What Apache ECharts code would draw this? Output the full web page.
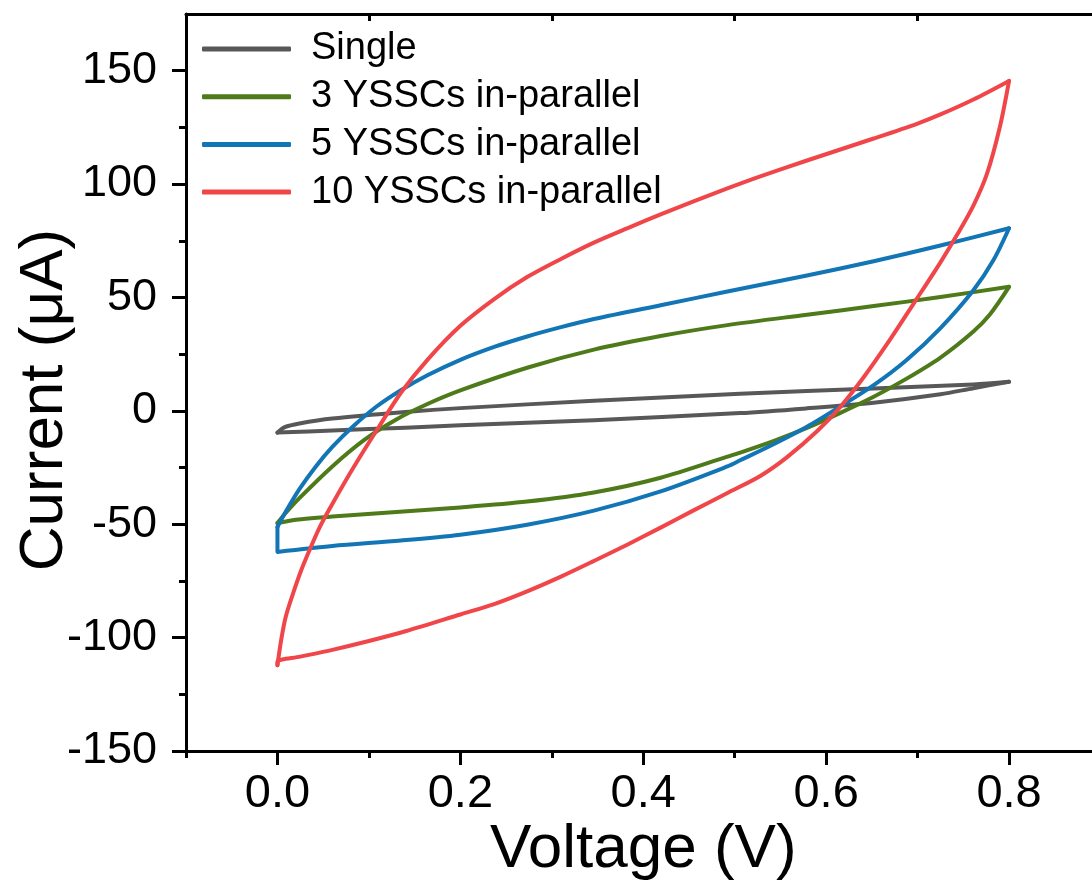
<!DOCTYPE html>
<html>
<head>
<meta charset="utf-8">
<script src="https://cdn.jsdelivr.net/npm/echarts@6/dist/echarts.min.js"></script>
<style>
  html, body { margin: 0; padding: 0; background: #ffffff; }
  #chart { width: 1092px; height: 883px; }
</style>
</head>
<body>
<div id="chart"></div>
<script>
// ---- data (voltage V, current µA) ----
const seriesNames = ['Single', '3 YSSCs in-parallel', '5 YSSCs in-parallel', '10 YSSCs in-parallel'];

// forward scans (0 -> 0.8 V)
const singleUp = [
  [0, -9.6], [0.008, -7.2], [0.024, -5.6], [0.06, -3.4], [0.14, -0.5], [0.2, 1.2],
  [0.346, 4.4], [0.506, 7.5], [0.652, 9.9], [0.761, 11.6], [0.8, 12.8]
];
// reverse scans (0.8 -> 0 V)
const singleDown = [
  [0.8, 12.8], [0.761, 10.0], [0.725, 7.3], [0.652, 3.6], [0.579, 1.1], [0.506, -1.0],
  [0.346, -4.1], [0.2, -6.4], [0.14, -7.4], [0.06, -8.7], [0, -9.6]
];

const threeUp = [
  [0, -49.5], [0.008, -45.5], [0.024, -38.5], [0.06, -24.5], [0.095, -12.8], [0.13, -3.8],
  [0.164, 3], [0.2, 9], [0.273, 19], [0.346, 27], [0.419, 33], [0.492, 37.8],
  [0.579, 42.4], [0.652, 46.2], [0.725, 50.2], [0.8, 54.7]
];
const threeDown = [
  [0.8, 54.7], [0.779, 42.5], [0.761, 35], [0.725, 23.5], [0.688, 14.2], [0.652, 6.2],
  [0.615, -1.0], [0.579, -7.5], [0.543, -13.2], [0.506, -18.4], [0.492, -20.2], [0.419, -29.5],
  [0.346, -36], [0.273, -40], [0.2, -42.6], [0.13, -44.6], [0.06, -46.6], [0.02, -48], [0, -49.5]
];

const fiveUp = [
  [0, -51.2], [0.009, -44.5], [0.024, -34.5], [0.042, -24.5], [0.06, -15.9], [0.082, -7.1],
  [0.108, 1.8], [0.135, 9.1], [0.164, 15.7], [0.2, 22.5], [0.237, 28.2], [0.273, 32.8],
  [0.31, 36.9], [0.346, 40.5], [0.419, 46.6], [0.492, 52.6], [0.579, 59.7], [0.652, 66],
  [0.725, 72.9], [0.8, 80.5]
];
const fiveDown = [
  [0.8, 80.5], [0.783, 66.5], [0.761, 53.2], [0.725, 36.5], [0.688, 22.4], [0.652, 11.3],
  [0.615, 1.8], [0.579, -7.0], [0.543, -14.6], [0.506, -21.8], [0.492, -24.5], [0.419, -35.5],
  [0.346, -44], [0.273, -50.2], [0.2, -54.6], [0.135, -57.2], [0.06, -59.6], [0, -62.2], [0, -51.2]
];

const tenUp = [
  [0, -112.2], [0.004, -101.2], [0.009, -90.9], [0.017, -80.6], [0.026, -70.3], [0.035, -61.5],
  [0.046, -51.5], [0.058, -42.5], [0.075, -30.5], [0.093, -18.5], [0.111, -7], [0.135, 8],
  [0.164, 22.5], [0.2, 37.5], [0.237, 49.3], [0.273, 59], [0.31, 67], [0.346, 74.2],
  [0.383, 80.6], [0.419, 86.6], [0.455, 92.4], [0.492, 98.1], [0.528, 103.4], [0.579, 110.4],
  [0.652, 120.1], [0.7, 126.7], [0.725, 130.7], [0.761, 137.3], [0.8, 145.5]
];
const tenDown = [
  [0.8, 145.5], [0.79, 125.3], [0.776, 104.7], [0.761, 90.5], [0.743, 77.5], [0.725, 65.5],
  [0.696, 47.5], [0.67, 31.5], [0.641, 14.8], [0.615, 1.5], [0.59, -9], [0.557, -20.5],
  [0.528, -28.7], [0.492, -36.2], [0.455, -43.9], [0.419, -51.5], [0.383, -58.9], [0.346, -66.2],
  [0.31, -73.1], [0.273, -79.6], [0.237, -85.2], [0.2, -89.8], [0.14, -97.2], [0.1, -101.5],
  [0.06, -105.4], [0.025, -108.4], [0, -110.5], [0, -112.2]
];

// ---- axis ticks ----
const xMajorTicks = [0, 0.2, 0.4, 0.6, 0.8];
const xMinorTicks = [-0.1, 0.1, 0.3, 0.5, 0.7, 0.9];
const xTopTicks = [0.1, 0.3, 0.5, 0.7];
const yMajorTicks = [-150, -100, -50, 0, 50, 100, 150];
const yMinorTicks = [-125, -75, -25, 25, 75, 125];

const colors = ['#585858', '#4E7A19', '#1275B5', '#F0464A'];
const branches = [
  [singleUp, singleDown], [threeUp, threeDown], [fiveUp, fiveDown], [tenUp, tenDown]
];

const FONT = '"Liberation Sans", Arial, Helvetica, sans-serif';
const chart = echarts.init(document.getElementById('chart'), null, { renderer: 'canvas' });

const baseX = { type: 'value', min: -0.1, max: 0.9, splitLine: { show: false }, gridIndex: 0 };
const baseY = { type: 'value', min: -150, max: 175, splitLine: { show: false }, gridIndex: 0 };

const series = [];
branches.forEach((pair, i) => {
  pair.forEach((branch) => {
    series.push({
      name: seriesNames[i],
      type: 'line',
      xAxisIndex: 0,
      yAxisIndex: 0,
      data: branch,
      showSymbol: false,
      symbol: 'none',
      smooth: 0.3,
      color: colors[i],
      lineStyle: { color: colors[i], width: 4, join: 'round', cap: 'round' },
      itemStyle: { color: colors[i] },
      z: 2 + i
    });
  });
});

const option = {
  backgroundColor: '#ffffff',
  animation: false,
  grid: { left: 186, top: 14, right: -8.5, bottom: 132, containLabel: false, outerBoundsMode: 'none' },
  legend: {
    orient: 'vertical',
    left: 202,
    top: 30,
    padding: 0,
    itemWidth: 89,
    itemHeight: 5,
    itemGap: 9.7,
    icon: 'roundRect',
    data: seriesNames,
    textStyle: { fontFamily: FONT, fontSize: 38, color: '#000', lineHeight: 38, padding: [0, 0, 0, 15] }
  },
  xAxis: [
    Object.assign({}, baseX, {
      position: 'bottom',
      name: 'Voltage (V)',
      nameLocation: 'middle',
      nameGap: 68,
      nameMoveOverlap: false,
      nameTextStyle: { fontFamily: FONT, fontSize: 62, color: '#000' },
      axisLine: { show: true, onZero: false, lineStyle: { color: '#000', width: 3 } },
      axisTick: { show: true, inside: false, length: 14, customValues: xMajorTicks, lineStyle: { color: '#000', width: 3 } },
      axisLabel: { show: true, customValues: xMajorTicks, margin: 20, fontFamily: FONT, fontSize: 47, color: '#000',
        formatter: v => v.toFixed(1) }
    }),
    Object.assign({}, baseX, {
      position: 'bottom',
      axisLine: { show: false, onZero: false },
      axisTick: { show: true, inside: false, length: 7, customValues: xMinorTicks, lineStyle: { color: '#000', width: 3 } },
      axisLabel: { show: false }
    }),
    Object.assign({}, baseX, {
      position: 'top',
      axisLine: { show: true, onZero: false, lineStyle: { color: '#000', width: 3 } },
      axisTick: { show: true, inside: true, length: 7, customValues: xTopTicks, lineStyle: { color: '#000', width: 3 } },
      axisLabel: { show: false }
    })
  ],
  yAxis: [
    Object.assign({}, baseY, {
      position: 'left',
      name: 'Current (μA)',
      nameLocation: 'middle',
      nameGap: 110,
      nameMoveOverlap: false,
      nameTextStyle: { fontFamily: FONT, fontSize: 62, color: '#000', padding: [0, 35, 0, 0] },
      axisLine: { show: true, onZero: false, lineStyle: { color: '#000', width: 3 } },
      axisTick: { show: true, inside: false, length: 14, customValues: yMajorTicks, lineStyle: { color: '#000', width: 3 } },
      axisLabel: { show: true, customValues: yMajorTicks, margin: 29, fontFamily: FONT, fontSize: 45, color: '#000' }
    }),
    Object.assign({}, baseY, {
      position: 'left',
      axisLine: { show: false, onZero: false },
      axisTick: { show: true, inside: false, length: 7, customValues: yMinorTicks, lineStyle: { color: '#000', width: 3 } },
      axisLabel: { show: false }
    })
  ],
  series: series
};

chart.setOption(option);
</script>
</body>
</html>
